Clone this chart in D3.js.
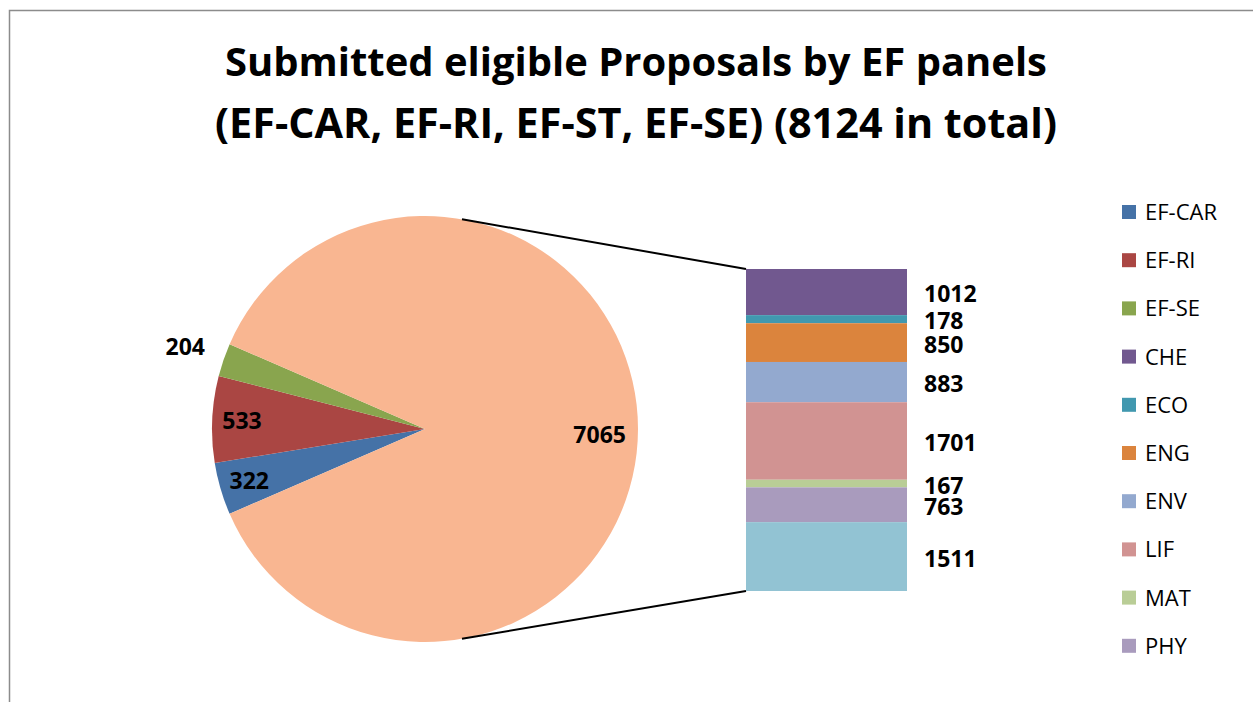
<!DOCTYPE html>

<head>
    <meta charset="utf-8">
    <script src="https://d3js.org/d3.v7.min.js"></script>
</head>

<body style="margin: 0; background: #fff">
    <svg width="1253" height="702"></svg>

    <script>
        // EF panels shown in the pie, the ST panels are split out in the bar
        var efPanels = ["EF-CAR", "EF-RI", "EF-SE"];
        var efValues = [322, 533, 204];
        var efColors = ["#4572A7", "#AA4643", "#89A54E"];

        var stPanels = ["CHE", "ECO", "ENG", "ENV", "LIF", "MAT", "PHY", "SOC"];
        var stValues = [1012, 178, 850, 883, 1701, 167, 763, 1511];
        var stColors = ["#71588F", "#4198AF", "#DB843D", "#93A9CF", "#D19392", "#B9CD96", "#A99BBD", "#92C3D3"];

        var otherColor = "#F9B691";
        var titleLines = ["Submitted eligible Proposals by EF panels", "(EF-CAR, EF-RI, EF-ST, EF-SE) (8124 in total)"];

        var FONT = "'Open Sans', 'DejaVu Sans', sans-serif";

        var svg = d3.select("svg");

        // chart frame (only the top and left edges are inside the picture)
        svg.append("rect")
            .attr("x", 9.5)
            .attr("y", 10.5)
            .attr("width", 1400)
            .attr("height", 900)
            .style("fill", "none")
            .style("stroke", "#8c8c8c")
            .style("stroke-width", 1.5);

        // Title, fitted to the width of the original
        var titleWidths = [822, 842];
        var titleBase = [76, 138];
        titleLines.forEach(function(t, i) {
            var txt = svg.append("text")
                .attr("x", 636)
                .attr("y", titleBase[i])
                .attr("text-anchor", "middle")
                .style("font-family", FONT)
                .style("font-weight", "bold")
                .style("font-size", "34px")
                .style("fill", "#000")
                .text(t);
            var w = txt.node().getComputedTextLength();
            txt.style("font-size", (34 * titleWidths[i] / w).toFixed(2) + "px");
        });

        // Pie
        var stTotal = d3.sum(stValues);
        var pieData = efValues.map(function(v, i) {
            return { name: efPanels[i], value: v, color: efColors[i] };
        });
        pieData.push({ name: "EF-ST", value: stTotal, color: otherColor });
        var total = d3.sum(pieData, function(d) { return d.value; });

        var cx = 425, cy = 429, r = 213;
        var smallSpan = (total - stTotal) / total * 2 * Math.PI;
        var start = 1.5 * Math.PI - smallSpan / 2;

        var pie = d3.pie()
            .sort(null)
            .value(function(d) { return d.value; })
            .startAngle(start)
            .endAngle(start + 2 * Math.PI);

        var arc = d3.arc().innerRadius(0).outerRadius(r);
        var arcs = pie(pieData);

        var gPie = svg.append("g")
            .attr("transform", "translate(" + cx + "," + cy + ")");

        gPie.selectAll("path")
            .data(arcs)
            .enter().append("path")
            .attr("d", arc)
            .style("fill", function(d) { return d.data.color; });

        gPie.selectAll("text")
            .data(arcs)
            .enter().append("text")
            .attr("transform", function(d) {
                var a = (d.startAngle + d.endAngle) / 2;
                var span = d.endAngle - d.startAngle;
                var rr = span < 0.2 ? r * 1.19 : (span > Math.PI ? r * 0.82 : r * 0.86);
                var dy = span > Math.PI ? 6 : 0;
                return "translate(" + (rr * Math.sin(a)) + "," + (-rr * Math.cos(a) + dy) + ")";
            })
            .attr("text-anchor", "middle")
            .attr("dy", "0.36em")
            .style("font-family", FONT)
            .style("font-weight", "bold")
            .style("font-size", "23px")
            .style("fill", "#000")
            .text(function(d) { return d.value; });

        // Stacked bar of the ST panels
        var barX = 746, barW = 161;
        var y = d3.scaleLinear()
            .domain([0, stTotal])
            .range([591, 269]);

        var barData = stValues.map(function(v, i) {
            var below = d3.sum(stValues.slice(i + 1));
            return { name: stPanels[i], value: v, color: stColors[i], y0: below, y1: below + v };
        });

        var gBar = svg.append("g");

        gBar.selectAll("rect")
            .data(barData)
            .enter().append("rect")
            .attr("x", barX)
            .attr("y", function(d) { return y(d.y1); })
            .attr("width", barW)
            .attr("height", function(d) { return y(d.y0) - y(d.y1); })
            .style("fill", function(d) { return d.color; });

        gBar.selectAll("text")
            .data(barData)
            .enter().append("text")
            .attr("x", 924)
            .attr("y", function(d) { return (y(d.y0) + y(d.y1)) / 2 + 2; })
            .attr("dy", "0.36em")
            .style("font-family", FONT)
            .style("font-weight", "bold")
            .style("font-size", "23px")
            .style("fill", "#000")
            .text(function(d) { return d.value; });

        // connector lines from the pie to the bar
        var connAngle = 10 * Math.PI / 180;
        var conns = [
            [cx + r * Math.sin(connAngle), cy - r * Math.cos(connAngle), barX, y(stTotal)],
            [cx + r * Math.sin(connAngle), cy + r * Math.cos(connAngle), barX, y(0)]
        ];
        svg.selectAll(".conn")
            .data(conns)
            .enter().append("line")
            .attr("class", "conn")
            .attr("x1", function(d) { return d[0]; })
            .attr("y1", function(d) { return d[1]; })
            .attr("x2", function(d) { return d[2]; })
            .attr("y2", function(d) { return d[3]; })
            .style("stroke", "#000")
            .style("stroke-width", 2);

        // Legend (the last entry does not fit in the frame)
        var legendItems = pieData.slice(0, 3).concat(barData).slice(0, 10);

        var legend = svg.append("g")
            .attr("class", "legend");

        var item = legend.selectAll("g")
            .data(legendItems)
            .enter().append("g")
            .attr("transform", function(d, i) {
                return "translate(1122," + (212 + i * 48.2) + ")";
            });

        item.append("rect")
            .attr("x", 0)
            .attr("y", -7)
            .attr("width", 14)
            .attr("height", 14)
            .style("fill", function(d) { return d.color; });

        item.append("text")
            .attr("x", 23)
            .attr("dy", "0.36em")
            .style("font-family", FONT)
            .style("font-size", "22px")
            .style("fill", "#000")
            .text(function(d) { return d.name; });

    </script>

</body>
